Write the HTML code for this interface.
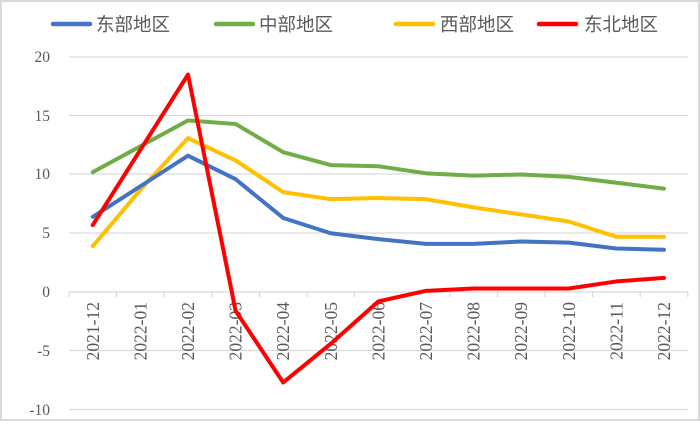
<!DOCTYPE html><html><head><meta charset="utf-8"><style>body{margin:0;background:#fff}</style></head><body>
<svg width="700" height="421" xmlns="http://www.w3.org/2000/svg" font-family="'Liberation Serif',serif">
<rect x="1" y="1" width="698" height="419" fill="#fff" stroke="#d9d9d9" stroke-width="2"/>
<g stroke="#d9d9d9" stroke-width="1.2">
<line x1="69" x2="688" y1="57" y2="57"/><line x1="69" x2="688" y1="115.5" y2="115.5"/><line x1="69" x2="688" y1="174" y2="174"/><line x1="69" x2="688" y1="233" y2="233"/><line x1="69" x2="688" y1="350.5" y2="350.5"/><line x1="69" x2="688" y1="409.5" y2="409.5"/>
<line x1="69" x2="688" y1="292" y2="292"/>
</g>
<g id="ticks" stroke="#d9d9d9" stroke-width="1.2"></g>
<g fill="#595959" font-size="15.5" text-anchor="end">
<text x="50" y="62">20</text><text x="50" y="121">15</text><text x="50" y="179">10</text><text x="50" y="238">5</text><text x="50" y="297">0</text><text x="50" y="356">-5</text><text x="50" y="415">-10</text>
</g>
<g id="xl" fill="#595959" font-size="17.5"></g>
<g fill="none" stroke-width="4" stroke-linejoin="round" stroke-linecap="round">
<polyline id="c" stroke="#70ad47"/><polyline id="w" stroke="#ffc000"/><polyline id="e" stroke="#4472c4"/><polyline id="n" stroke="#ff0000"/>
</g>
<g stroke-width="4.5" stroke-linecap="round">
<line x1="53" x2="90" y1="24" y2="24" stroke="#4472c4"/><line x1="216" x2="253" y1="24" y2="24" stroke="#70ad47"/><line x1="396" x2="433" y1="24" y2="24" stroke="#ffc000"/><line x1="539" x2="576" y1="24" y2="24" stroke="#ff0000"/>
</g>
<g fill="#595959" font-size="18.5" font-family="'Liberation Sans','Noto Sans CJK SC',sans-serif">
<text x="96" y="31">东部地区</text><text x="259" y="31">中部地区</text><text x="440" y="31">西部地区</text><text x="584" y="31">东北地区</text>
</g>
</svg>
<script>
const d={e:[6.4,9.0,11.6,9.6,6.3,5.0,4.5,4.1,4.1,4.3,4.2,3.7,3.6],c:[10.2,12.4,14.6,14.3,11.9,10.8,10.7,10.1,9.9,10.0,9.8,9.3,8.8],w:[3.9,8.7,13.1,11.2,8.5,7.9,8.0,7.9,7.2,6.6,6.0,4.7,4.7],n:[5.7,12.1,18.5,-1.6,-7.7,-4.4,-0.8,0.1,0.3,0.3,0.3,0.9,1.2]};
const X=i=>69+47.6*(i+0.5),Y=v=>292-v*11.75;
for(const k in d)document.getElementById(k).setAttribute('points',d[k].map((v,i)=>X(i)+','+Y(v)).join(' '));
const labs=['2021-12','2022-01','2022-02','2022-03','2022-04','2022-05','2022-06','2022-07','2022-08','2022-09','2022-10','2022-11','2022-12'];
let t='',xl='';
for(let i=0;i<=13;i++){const x=69+47.6*i;t+=`<line x1="${x}" x2="${x}" y1="292" y2="297"/>`;}
labs.forEach((l,i)=>{const x=X(i)+6;xl+=`<text transform="translate(${x},302) rotate(-90)" text-anchor="end">${l}</text>`;});
document.getElementById('ticks').innerHTML=t;document.getElementById('xl').innerHTML=xl;
</script>
</body></html>
